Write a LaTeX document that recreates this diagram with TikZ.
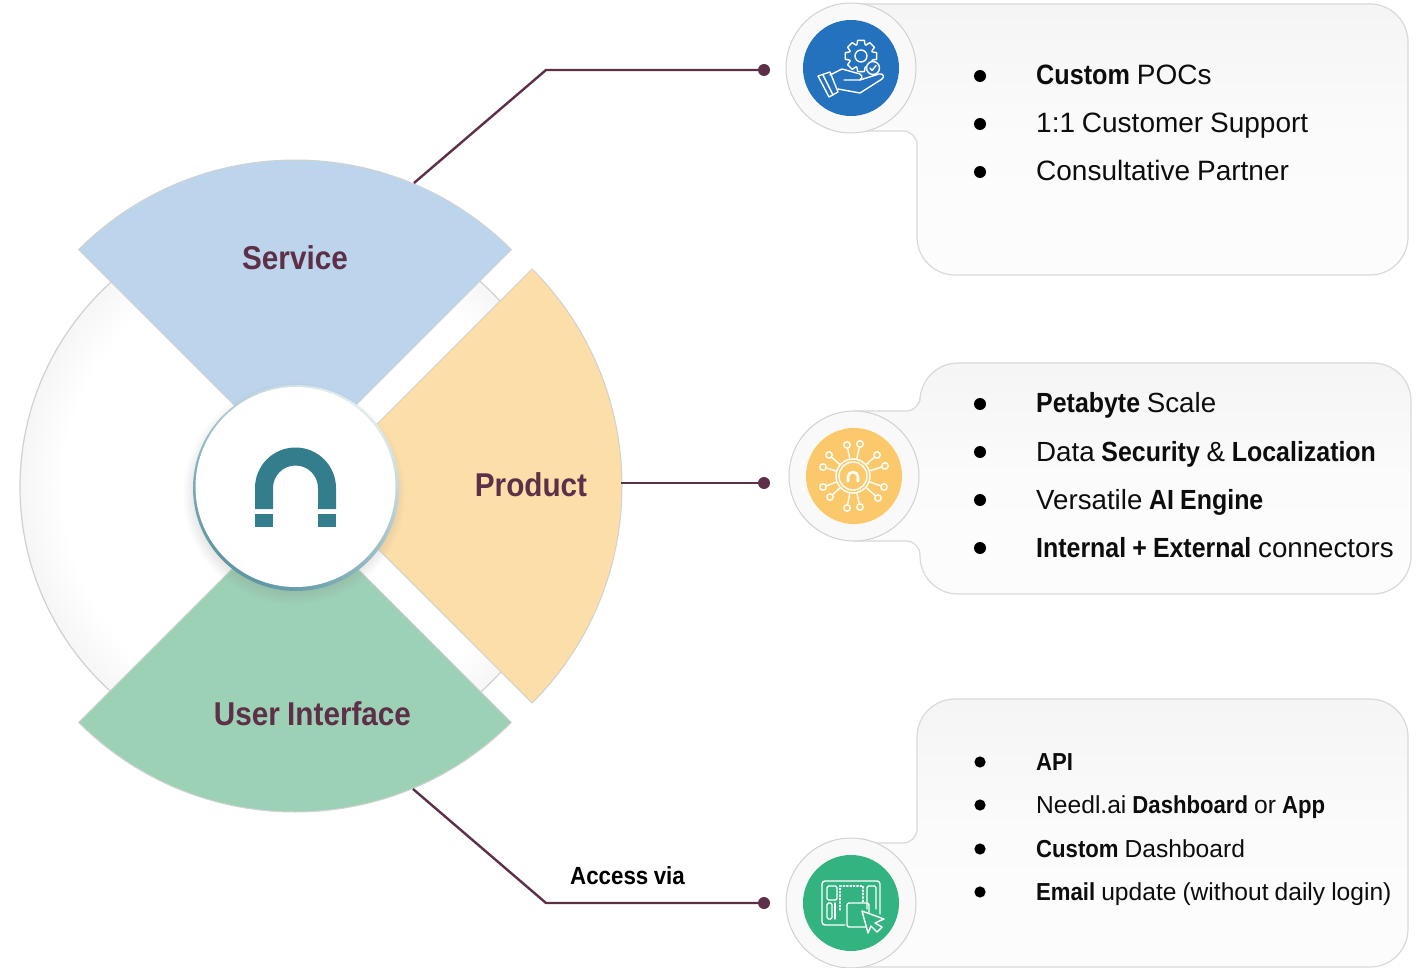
\documentclass[tikz,border=0pt]{standalone}
\usepackage{fontspec}
\setmainfont{Liberation Sans}[WordSpace=0.88,BoldFeatures={FakeStretch=0.9}]
\usepackage{tikz}
\usetikzlibrary{shadows}
\definecolor{serviceblue}{HTML}{BDD5EC}
\definecolor{productorange}{HTML}{FCDEA8}
\definecolor{interfacegreen}{HTML}{9DD1B5}
\definecolor{plum}{HTML}{5E2F49}
\definecolor{magnetteal}{HTML}{347D8C}
\definecolor{iconblue}{HTML}{2471BD}
\definecolor{iconyellow}{HTML}{FBC96B}
\definecolor{icongreen}{HTML}{33B37F}
\definecolor{ringgrey}{HTML}{F6F6F6}
\pgfdeclareradialshading{ringfade}{\pgfpoint{0bp}{0bp}}{color(0bp)=(white); color(21bp)=(white); color(25bp)=(ringgrey); color(50bp)=(ringgrey)}
\tikzset{
	sector/.style={draw=black!18,line width=1pt},
	panel/.style={draw=black!15,line width=1.2pt,top color=black!4,bottom color=black!1,middle color=black!1.5},
	badge/.style={draw=black!18,line width=1pt,fill=black!2.5},
	connector/.style={draw=plum,line width=2.4pt},
	enddot/.style={circle,fill=plum,inner sep=0pt,minimum size=12pt},
	sectorlabel/.style={text=plum,font=\fontsize{33}{35}\selectfont\bfseries},
	iconline/.style={draw=white,line width=1.4pt,line join=round,line cap=round},
	termdot/.style={circle,draw=white,line width=1.4pt,inner sep=0pt,minimum size=6.5pt},
	itemtext/.style={anchor=base west,inner sep=0pt,text=black!95}
}
\begin{document}
\begin{tikzpicture}[x=1pt,y=-1pt]
	\useasboundingbox (0,0) rectangle (1417,968);
	\draw[draw=black!18,line width=1.2pt,shading=ringfade] (296,487) circle (276);

	\draw[sector,fill=serviceblue] (295,466) -- +(225:306) arc (225:315:306) -- cycle;
	\draw[sector,fill=productorange] (315,486) -- +(-45:307) arc (-45:45:307) -- cycle;
	\draw[sector,fill=interfacegreen] (295,506) -- +(135:306) arc (135:45:306) -- cycle;

	\shade[top color=magnetteal!15,bottom color=magnetteal!80,shading angle=-35,circular drop shadow={shadow xshift=-2pt,shadow yshift=-5pt,shadow scale=1.08,opacity=.25}] (296,488) circle (103);
	\fill[white] (295.5,487) circle (100);
	\fill[magnetteal] (255,509) -- (255,488) arc (180:360:40.5) -- (336,509) -- (318,509) -- (318,488) arc (360:180:22.5) -- (273,509) -- cycle;
	\fill[magnetteal] (255,514) rectangle (273,527);
	\fill[magnetteal] (318,514) rectangle (336,527);

	\node[sectorlabel] (service) at (295,258) {Service};
	\node[sectorlabel] (product) at (531,485) {Product};
	\node[sectorlabel] (userinterface) at (312.5,714) {User Interface};

	\coordinate (servicestart) at (414,183);
	\coordinate (servicebend) at (546,70);
	\coordinate (interfacestart) at (413,789);
	\coordinate (interfacebend) at (546,903);
	\coordinate (productstart) at (621,483);
	\node[enddot] (servicedot) at (764,70) {};
	\node[enddot] (productdot) at (764,483) {};
	\node[enddot] (interfacedot) at (764,903) {};
	\draw[connector] (servicestart) -- (servicebend) -- (servicedot);
	\draw[connector] (productstart) -- (productdot);
	\draw[connector] (interfacestart) -- (interfacebend) -- (interfacedot);
	\node[anchor=base west,inner sep=0pt,font=\fontsize{24.8}{26}\selectfont\bfseries] (accessvia) at (570,884) {Access via};

	\draw[panel] (851,4) -- (1370,4) arc (-90:0:38) -- (1408,237) arc (0:90:38) -- (955,275) arc (90:180:38) -- (917,145) arc (0:-90:14) -- (851,131) -- cycle;
	\draw[panel] (854,411) -- (906,411) arc (90:0:14) -- (920,401) arc (180:270:38) -- (1373,363) arc (-90:0:38) -- (1411,556) arc (0:90:38) -- (958,594) arc (90:180:38) -- (920,555) arc (0:-90:14) -- (854,541) -- cycle;
	\draw[panel] (851,843) -- (903,843) arc (90:0:14) -- (917,737) arc (180:270:38) -- (1370,699) arc (-90:0:38) -- (1408,929) arc (0:90:38) -- (851,967) -- cycle;

	\draw[badge] (851,68) circle (65);
	\draw[badge] (854,476) circle (65);
	\draw[badge] (851,903) circle (65);
	\fill[iconblue] (851,68) circle (48);
	\fill[iconyellow] (854,476) circle (48);
	\fill[icongreen] (851,903) circle (48);

	\begin{scope}[shift={(861,56)}]
		\draw[iconline] (-12:16) \foreach \a in {0,45,...,315}{ -- (\a-12:16) -- (\a+12:16) -- (\a+20:12) -- (\a+25:12)} -- cycle;
		\draw[iconline] (0,0) circle (6);
	\end{scope}
	\draw[iconline,fill=iconblue] (873,68) circle (6.5);
	\draw[iconline] (870,68) -- (872,70.5) -- (876,65.5);
	\draw[iconline] (818,76) -- (830,72) -- (838,92) -- (829,97) -- cycle;
	\draw[iconline] (823,75) -- (833,95);
	\draw[iconline] (830,75) -- (842,69) -- (860,74) .. controls (863,76) and (862,79) .. (860,80) -- (844,80);
	\draw[iconline] (860,80) -- (879,74) .. controls (883,73) and (885,77) .. (882,79) -- (860,93) -- (838,89);

	\node[draw=white,circle,line width=1.4pt,inner sep=0pt,minimum size=34pt] (hub) at (853,476) {};
	\draw[iconline] (853,476) circle (14);
	\foreach \i/\px/\py in {1/-6/-31,2/7/-32,3/-24/-21,4/24/-21,5/-30/-9,6/32/-10,7/-30/11,8/31/11,9/-23/21,10/25/22,11/-6/32,12/7/31}{
		\node[termdot] (term\i) at (853+\px,476+\py) {};
		\draw[iconline] (hub) -- (term\i);
	}
	\draw[draw=white,line width=2.6pt] (848,482) -- (848,477) arc (180:360:5) -- (858,482);

	\draw[iconline,rounded corners=3pt] (845,925) -- (822,925) -- (822,881) -- (880,881) -- (880,914);
	\draw[iconline,rounded corners=1.5pt] (827,886) rectangle (837,900);
	\draw[iconline,rounded corners=1.5pt] (827,903) rectangle (832,919);
	\draw[iconline] (835,903) -- (835,919);
	\draw[iconline,rounded corners=1.5pt] (867,909) -- (867,886) -- (876,886) -- (876,909);
	\draw[iconline,dotted] (840,910) -- (840,886) -- (863,886) -- (863,902);
	\draw[iconline,rounded corners=2pt] (847,903) rectangle (869,927);
	\draw[iconline,fill=icongreen] (862,911) -- (884,919) -- (875,923) -- (882,927) -- (877,932) -- (871,926) -- (868,933) -- cycle;

	\foreach \y in {76,124,172,404,452,500,548}
		\fill (980,\y) circle (6);
	\foreach \y in {762,805,849,892}
		\fill (980,\y) circle (5.6);

	\begin{scope}[every node/.style={itemtext,font=\fontsize{28}{30}\selectfont}]
		\node (customp) at (1036,85) {\textbf{Custom} POCs};
		\node (support) at (1036,133) {1:1 Customer Support};
		\node (partner) at (1036,181) {Consultative Partner};
	\end{scope}
	\begin{scope}[every node/.style={itemtext,font=\fontsize{27.7}{30}\selectfont}]
		\node (petabyte) at (1036,413) {\textbf{Petabyte} Scale};
		\node (security) at (1036,461) {Data \textbf{Security} \& \textbf{Localization}};
		\node (engine) at (1036,509) {Versatile \textbf{AI Engine}};
		\node (connectors) at (1036,557) {\textbf{Internal + External} connectors};
	\end{scope}
	\begin{scope}[every node/.style={itemtext,font=\fontsize{24.6}{27}\selectfont}]
		\node (api) at (1036,770) {\textbf{API}};
		\node (dashboard) at (1036,813) {Needl.ai \textbf{Dashboard} or \textbf{App}};
		\node (customd) at (1036,857) {\textbf{Custom} Dashboard};
		\node (email) at (1036,900) {\textbf{Email} update (without daily login)};
	\end{scope}
\end{tikzpicture}
\end{document}
